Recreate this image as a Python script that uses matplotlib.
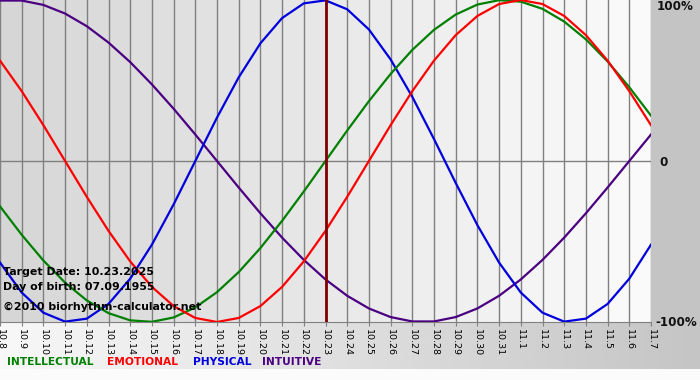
import numpy as np
import matplotlib.pyplot as plt
from matplotlib.patches import Rectangle

# day labels along the bottom (month.day)
day_labels = ['10.8', '10.9', '10.10', '10.11', '10.12', '10.13', '10.14', '10.15',
              '10.16', '10.17', '10.18', '10.19', '10.20', '10.21', '10.22', '10.23',
              '10.24', '10.25', '10.26', '10.27', '10.28', '10.29', '10.30', '10.31',
              '11.1', '11.2', '11.3', '11.4', '11.5', '11.6', '11.7']
target_label = '10.23'

# daily values (-1 .. 1)
intellectual = [-0.2817, -0.4582, -0.6182, -0.7557, -0.8660, -0.9450, -0.9898, -0.9989,
                -0.9718, -0.9096, -0.8146, -0.6901, -0.5406, -0.3717, -0.1893, 0.0,
                0.1893, 0.3717, 0.5406, 0.6901, 0.8146, 0.9096, 0.9718, 0.9989,
                0.9898, 0.9450, 0.8660, 0.7557, 0.6182, 0.4582, 0.2817]
emotional = [0.6235, 0.4339, 0.2225, 0.0, -0.2225, -0.4339, -0.6235, -0.7818,
             -0.9010, -0.9749, -1.0, -0.9749, -0.9010, -0.7818, -0.6235, -0.4339,
             -0.2225, 0.0, 0.2225, 0.4339, 0.6235, 0.7818, 0.9010, 0.9749,
             1.0, 0.9749, 0.9010, 0.7818, 0.6235, 0.4339, 0.2225]
physical = [-0.6310, -0.8170, -0.9423, -0.9977, -0.9791, -0.8879, -0.7308, -0.5196,
            -0.2698, 0.0, 0.2698, 0.5196, 0.7308, 0.8879, 0.9791, 0.9977,
            0.9423, 0.8170, 0.6310, 0.3984, 0.1362, -0.1362, -0.3984, -0.6310,
            -0.8170, -0.9423, -0.9977, -0.9791, -0.8879, -0.7308, -0.5196]
intuitive = [0.9966, 0.9966, 0.9694, 0.9158, 0.8372, 0.7357, 0.6142, 0.4759,
             0.3247, 0.1646, 0.0, -0.1646, -0.3247, -0.4759, -0.6142, -0.7357,
             -0.8372, -0.9158, -0.9694, -0.9966, -0.9966, -0.9694, -0.9158, -0.8372,
             -0.7357, -0.6142, -0.4759, -0.3247, -0.1646, 0.0, 0.1646]

series_names = ['INTELLECTUAL', 'EMOTIONAL', 'PHYSICAL', 'INTUITIVE']
series_colors = ['#008000', '#ff0000', '#0000dd', '#4b0082']

W, H = 700, 380
PLOT_R, PLOT_B = 651, 322


def px(x, y):
    # pixel coords -> figure fraction
    return x / W, 1 - y / H


fig = plt.figure(figsize=(W / 100, H / 100), dpi=100)
fig.patch.set_facecolor('#fbfbfb')

# background: gray strip on the right, gradient band under the plot
bg = fig.add_axes([0, 0, 1, 1])
grad = np.linspace(0.97, 0.77, 256).reshape(1, -1)
bg.imshow(grad, cmap='gray', vmin=0, vmax=1, extent=(0, W, 369, PLOT_B), aspect='auto')
bg.add_patch(Rectangle((PLOT_R, 0), W - PLOT_R, PLOT_B, color='#c4c4c4', lw=0))
bg.set_xlim(0, W)
bg.set_ylim(H, 0)
bg.axis('off')

ax = fig.add_axes([0, 1 - PLOT_B / H, PLOT_R / W, PLOT_B / H])
x = np.arange(len(day_labels))
n = len(day_labels) - 1

# per-day column shading, darker on the left
shades = np.linspace(0.84, 0.98, n)
for i in range(n):
    ax.axvspan(i, i + 1, color=str(shades[i]), lw=0, zorder=0)
for i in x:
    ax.axvline(i, color='#808080', lw=1, zorder=1)
ax.axhline(0, color='#808080', lw=1, zorder=1)

for vals, c in zip([intuitive, physical, intellectual, emotional],
                   ['#4b0082', '#0000dd', '#008000', '#ff0000']):
    ax.plot(x, vals, color=c, lw=1.6, zorder=3)

ti = day_labels.index(target_label)
ax.axvline(ti, color='#800000', lw=2, zorder=4)

ax.set_xlim(0, n)
ax.set_ylim(-1.0, 1.0)
ax.set_yticks([])
ax.set_xticks(x)
ax.set_xticklabels(day_labels, rotation=270, fontsize=6.8, va='top', ha='center')
ax.tick_params(axis='x', length=3, color='#808080', pad=2)
for s in ['top', 'left', 'right']:
    ax.spines[s].set_visible(False)
ax.spines['bottom'].set_color('#808080')
ax.set_facecolor('none')

# right side percent labels
bold = dict(fontweight='bold', fontsize=8.6, color='#111111', va='center', ha='left')
fig.text(*px(657, 7), '100%', **bold)
fig.text(*px(659, 162), '0', **bold)
fig.text(*px(655, 322), '-100%', **bold)

# overlay info text
info = dict(fontweight='bold', fontsize=7.9, color='black', va='center', ha='left', zorder=10)
fig.text(*px(3, 272), 'Target Date: 10.23.2025', **info)
fig.text(*px(3, 287), 'Day of birth: 07.09.1955', **info)
fig.text(*px(3, 307), '\u00a92010 biorhythm-calculator.net', **info)

# legend words along the bottom
legend_x = [7, 107, 193, 262]
for name, c, lx in zip(series_names, series_colors, legend_x):
    fig.text(*px(lx, 362), name, color=c, fontweight='bold', fontsize=7.7,
             va='center', ha='left')

fig.savefig('out.png', dpi=100, facecolor=fig.get_facecolor())
